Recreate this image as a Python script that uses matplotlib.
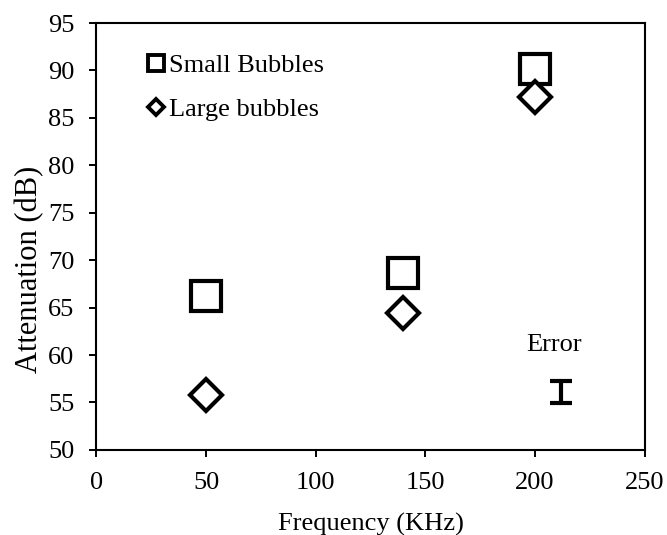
import matplotlib
matplotlib.use("Agg")
import matplotlib.pyplot as plt
from matplotlib.lines import Line2D

plt.rcParams['font.family'] = ['Liberation Serif', 'DejaVu Serif']

freq = [50, 140, 200]
small_bubbles = [66.2, 68.7, 90.1]
large_bubbles = [55.8, 64.4, 87.2]
err_x = 212
err_y = 56.1
err_val = 1.15

fs = 19

fig = plt.figure(figsize=(6.67, 5.35), dpi=100)
ax = fig.add_axes([0.1445, 0.159, 0.822, 0.798])

ax.plot(freq, small_bubbles, linestyle='none', marker='s', markersize=22,
        markerfacecolor='white', markeredgecolor='black', markeredgewidth=3)
ax.plot(freq, large_bubbles, linestyle='none', marker='D', markersize=16.5,
        markerfacecolor='white', markeredgecolor='black', markeredgewidth=3)

ax.errorbar([err_x], [err_y], yerr=[err_val], fmt='none', ecolor='black',
            elinewidth=3, capsize=8, capthick=3)
ax.text(err_x - 3.5, 61.1, 'Error', ha='center', va='center', fontsize=fs)

ax.set_xlim(0, 250)
ax.set_ylim(50, 95)
ax.set_xticks([0, 50, 100, 150, 200, 250])
ax.set_yticks(list(range(50, 96, 5)))
ax.tick_params(direction='out', length=5, width=1.4, labelsize=fs)
ax.tick_params(axis='x', pad=11)
ax.tick_params(axis='y', pad=11)
for s in ax.spines.values():
    s.set_linewidth(1.5)
ax.set_xlabel('Frequency (KHz)', fontsize=fs)
ax.set_ylabel('Attenuation (dB)', fontsize=22)
ax.xaxis.set_label_coords(0.5, -0.147)
ax.yaxis.set_label_coords(-0.095, 0.424)

handles = [
    Line2D([], [], linestyle='none', marker='s', markersize=11.5,
           markerfacecolor='white', markeredgecolor='black', markeredgewidth=2.8),
    Line2D([], [], linestyle='none', marker='D', markersize=8,
           markerfacecolor='white', markeredgecolor='black', markeredgewidth=2.8),
]
ax.legend(handles, ['Small Bubbles', 'Large bubbles'], loc='upper left',
          bbox_to_anchor=(0.092, 0.928), frameon=False, fontsize=fs,
          handlelength=0.7, handletextpad=0.15, labelspacing=0.77, borderaxespad=0,
          borderpad=0)

fig.savefig('out.png', dpi=100)
